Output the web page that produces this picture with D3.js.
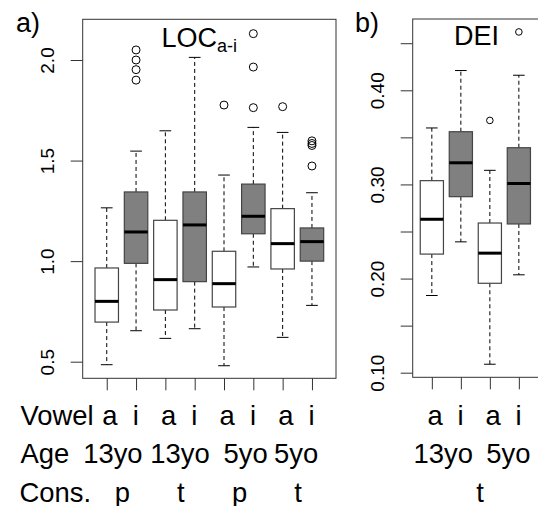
<!DOCTYPE html>
<html>
<head>
<meta charset="utf-8">
<script src="https://cdn.jsdelivr.net/npm/d3@7"></script>
<style>
  body { margin: 0; background: #fff; }
  text { font-family: "Liberation Sans", Arial, sans-serif; fill: #000; }
</style>
</head>
<body>
<div id="chart"></div>
<script>
// LOC a-i panel: 8 boxes
const locVowel = ["a", "i", "a", "i", "a", "i", "a", "i"];
const locAge = ["13yo", "13yo", "5yo", "5yo"];
const locCons = ["p", "t", "p", "t"];
const locLow = [0.485, 0.654, 0.616, 0.664, 0.480, 0.971, 0.621, 0.780];
const locQ1 = [0.697, 0.989, 0.757, 0.898, 0.772, 1.136, 0.961, 1.000];
const locMed = [0.800, 1.145, 0.908, 1.180, 0.888, 1.223, 1.087, 1.097];
const locQ3 = [0.966, 1.344, 1.203, 1.344, 1.049, 1.383, 1.261, 1.165];
const locHigh = [1.265, 1.547, 1.648, 2.013, 1.428, 1.665, 1.640, 1.340];
const locOut = [[], [2.05, 2.00, 1.952, 1.90], [], [], [1.776], [2.131, 1.965, 1.763], [1.768], [1.598, 1.585, 1.575, 1.473]];
const locTicks = [0.5, 1.0, 1.5, 2.0];

// DEI panel: 4 boxes
const deiVowel = ["a", "i", "a", "i"];
const deiAge = ["13yo", "5yo"];
const deiCons = ["t"];
const deiLow = [0.182, 0.239, 0.109, 0.204];
const deiQ1 = [0.226, 0.287, 0.195, 0.258];
const deiMed = [0.263, 0.323, 0.227, 0.301];
const deiQ3 = [0.304, 0.356, 0.259, 0.339];
const deiHigh = [0.360, 0.421, 0.315, 0.416];
const deiOut = [[], [], [0.368], [0.462]];
const deiTicks = [0.10, 0.15, 0.20, 0.25, 0.30, 0.35, 0.40, 0.45];
const deiLabelled = [0.10, 0.20, 0.30, 0.40];

const width = 538, height = 506;
const svg = d3.select("#chart").append("svg")
  .attr("width", width).attr("height", height);

function toRows(low, q1, med, q3, high, out, vowel) {
  return low.map((l, i) => ({
    pos: i + 1, low: l, q1: q1[i], med: med[i], q3: q3[i], high: high[i],
    out: out[i], grey: vowel[i] === "i"
  }));
}

function drawPanel(rows, x, y, frame, r) {
  const g = svg.append("g");
  g.append("rect")
    .attr("x", frame[0]).attr("y", frame[1])
    .attr("width", frame[2] - frame[0]).attr("height", frame[3] - frame[1])
    .attr("fill", "none").attr("stroke", "#333").attr("stroke-width", 1);

  const b = g.selectAll("g.box").data(rows).enter().append("g").attr("class", "box");
  // whiskers
  b.append("line")
    .attr("x1", d => x(d.pos)).attr("x2", d => x(d.pos))
    .attr("y1", d => y(d.q3)).attr("y2", d => y(d.high))
    .attr("stroke", "#000").attr("stroke-dasharray", "4,3");
  b.append("line")
    .attr("x1", d => x(d.pos)).attr("x2", d => x(d.pos))
    .attr("y1", d => y(d.q1)).attr("y2", d => y(d.low))
    .attr("stroke", "#000").attr("stroke-dasharray", "4,3");
  // staples
  b.append("line")
    .attr("x1", d => x(d.pos - 0.2)).attr("x2", d => x(d.pos + 0.2))
    .attr("y1", d => y(d.high)).attr("y2", d => y(d.high))
    .attr("stroke", "#000");
  b.append("line")
    .attr("x1", d => x(d.pos - 0.2)).attr("x2", d => x(d.pos + 0.2))
    .attr("y1", d => y(d.low)).attr("y2", d => y(d.low))
    .attr("stroke", "#000");
  // box
  b.append("rect")
    .attr("x", d => x(d.pos - 0.4)).attr("width", d => x(d.pos + 0.4) - x(d.pos - 0.4))
    .attr("y", d => y(d.q3)).attr("height", d => y(d.q1) - y(d.q3))
    .attr("fill", d => d.grey ? "#808080" : "#fff")
    .attr("stroke", "#444").attr("stroke-width", 1.2);
  // median
  b.append("line")
    .attr("x1", d => x(d.pos - 0.4)).attr("x2", d => x(d.pos + 0.4))
    .attr("y1", d => y(d.med)).attr("y2", d => y(d.med))
    .attr("stroke", "#000").attr("stroke-width", 3);
  // outliers
  b.selectAll("circle").data(d => d.out.map(v => ({ pos: d.pos, v: v })))
    .enter().append("circle")
    .attr("cx", d => x(d.pos)).attr("cy", d => y(d.v)).attr("r", r)
    .attr("fill", "none").attr("stroke", "#000").attr("stroke-width", 1);
  return g;
}

function yAxis(y, xPos, ticks, labelled, fmt) {
  const ax = svg.append("g").attr("transform", `translate(${xPos},0)`)
    .call(d3.axisLeft(y).tickValues(ticks).tickSize(12).tickFormat(d => labelled.includes(d) ? fmt(d) : ""));
  ax.select(".domain").remove();
  ax.selectAll("line").attr("stroke", "#333");
  ax.selectAll("text")
    .attr("x", null).attr("dy", null)
    .attr("transform", "translate(-29,0) rotate(-90)")
    .attr("text-anchor", "middle")
    .style("font-size", "19px");
  ax.attr("font-family", null);
}

function xAxis(x, yPos, n) {
  const ax = svg.append("g").attr("transform", `translate(0,${yPos})`)
    .call(d3.axisBottom(x).tickValues(d3.range(1, n + 1)).tickSize(12).tickFormat(""));
  ax.select(".domain").remove();
  ax.selectAll("line").attr("stroke", "#333");
}

// ---- panel a
const xL = d3.scaleLinear().domain([0.18, 8.82]).range([82.7, 336]);
const yL = d3.scaleLinear().domain([0.5, 2.0]).range([361.7, 60]);
drawPanel(toRows(locLow, locQ1, locMed, locQ3, locHigh, locOut, locVowel), xL, yL, [82.7, 19.3, 336, 378.3], 4);
yAxis(yL, 82.7, locTicks, locTicks, d3.format(".1f"));
xAxis(xL, 378.3, 8);

// ---- panel b
const xD = d3.scaleLinear().domain([0.34, 4.66]).range([412.7, 538]);
const yD = d3.scaleLinear().domain([0.10, 0.40]).range([372.7, 90.3]);
drawPanel(toRows(deiLow, deiQ1, deiMed, deiQ3, deiHigh, deiOut, deiVowel), xD, yD, [412.7, 19, 541, 377.3], 3.3);
yAxis(yD, 412.7, deiTicks, deiLabelled, d3.format(".2f"));
xAxis(xD, 377.3, 4);

// ---- titles
svg.append("text").attr("x", 16).attr("y", 32).style("font-size", "27px").text("a)");
svg.append("text").attr("x", 355).attr("y", 32).style("font-size", "27px").text("b)");
const loc = svg.append("text").attr("x", 161.4).attr("y", 47.3).style("font-size", "27px");
loc.append("tspan").text("LOC");
loc.append("tspan").attr("dy", 5).style("font-size", "18px").text("a-i");
svg.append("text").attr("x", 454).attr("y", 45.3).style("font-size", "27px").text("DEI");

// ---- bottom label rows (the original was one spaced string, so labels sit a bit off the ticks)
const lab = svg.append("g").style("font-size", "27.4px").attr("text-anchor", "middle");
const rowY = [425, 463.3, 501.7];
const vowelShift = v => v === "a" ? 0.11 : -0.01;
const locAgeAt = [1.21, 3.5, 5.74, 7.46];
const deiAgeAt = [1.395, 3.64];

function tokens(data, x, at, y) {
  lab.append("g").selectAll("text").data(data).enter().append("text")
    .attr("x", (d, i) => x(at(d, i))).attr("y", y).text(d => d);
}

lab.append("text").attr("text-anchor", "start").attr("x", 20.5).attr("y", rowY[0]).text("Vowel");
lab.append("text").attr("text-anchor", "start").attr("x", 20.5).attr("y", rowY[1]).text("Age");
lab.append("text").attr("text-anchor", "start").attr("x", 19.5).attr("y", rowY[2]).text("Cons.");

tokens(locVowel, xL, (d, i) => i + 1 + vowelShift(d), rowY[0]);
tokens(locAge, xL, (d, i) => locAgeAt[i], rowY[1]);
tokens(locCons, xL, (d, i) => 2 * i + 1.53, rowY[2]);

tokens(deiVowel, xD, (d, i) => i + 1 + vowelShift(d), rowY[0]);
tokens(deiAge, xD, (d, i) => deiAgeAt[i], rowY[1]);
tokens(deiCons, xD, () => 2.66, rowY[2]);
</script>
</body>
</html>
